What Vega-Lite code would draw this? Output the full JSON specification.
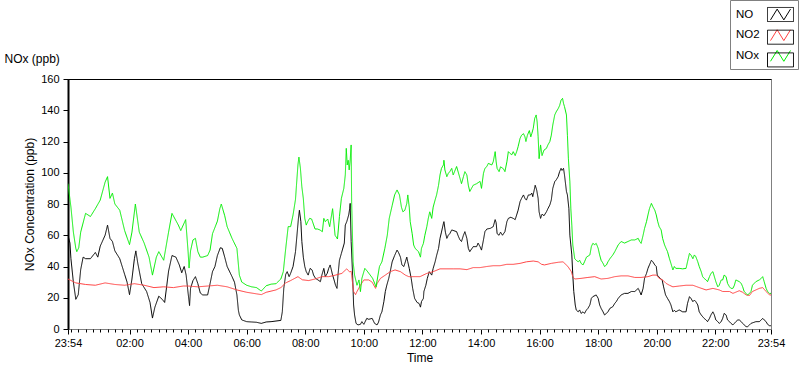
{
"$schema": "https://vega.github.io/schema/vega-lite/v6.json",
"width": 703, "height": 250,
"autosize": {"type": "none"},
"padding": {"left": 68, "top": 79, "right": 29, "bottom": 40},
"background": "white",
"config": {
  "view": {"stroke": "#000", "strokeWidth": 1},
  "axis": {"grid": false, "labelFont": "Liberation Sans", "titleFont": "Liberation Sans", "labelFontSize": 11, "titleFontSize": 12, "titleFontWeight": "normal", "labelColor": "#000", "titleColor": "#000", "tickColor": "#000"},
  "legend": {"labelFont": "Liberation Sans", "labelFontSize": 11.5, "labelColor": "#000"}
},
"datasets": {
"no": [
{"m":-6,"v":60},{"m":-2,"v":55},{"m":0,"v":45},{"m":5,"v":30},{"m":10,"v":19},{"m":15,"v":22},{"m":20,"v":38},{"m":25,"v":46},{"m":30,"v":45},{"m":40,"v":45},{"m":50,"v":49},{"m":55,"v":46},{"m":60,"v":53},{"m":70,"v":60},{"m":75,"v":66.5},{"m":80,"v":58},{"m":85,"v":56},{"m":90,"v":50},{"m":100,"v":45},{"m":110,"v":35},{"m":115,"v":30},{"m":120,"v":22},{"m":125,"v":32},{"m":130,"v":45},{"m":133,"v":50},{"m":137,"v":42},{"m":145,"v":29},{"m":155,"v":24},{"m":162,"v":17},{"m":167,"v":7},{"m":172,"v":14},{"m":180,"v":21},{"m":187,"v":19},{"m":192,"v":17},{"m":200,"v":37},{"m":207,"v":47},{"m":215,"v":46},{"m":222,"v":41},{"m":227,"v":36},{"m":232,"v":40},
{"m":236,"v":34.5},{"m":240,"v":23},{"m":243,"v":15},{"m":245,"v":26},{"m":250,"v":31},{"m":255,"v":33.5},{"m":260,"v":29},{"m":265,"v":23},{"m":270,"v":21.8},{"m":280,"v":21.8},{"m":285,"v":29},{"m":290,"v":36.7},{"m":295,"v":40},{"m":300,"v":47},{"m":306,"v":52},{"m":310,"v":51.6},{"m":315,"v":46},{"m":320,"v":40},{"m":330,"v":33.5},{"m":335,"v":30},{"m":340,"v":21.8},{"m":343,"v":12},{"m":345,"v":9},{"m":350,"v":5.8},{"m":360,"v":4.7},{"m":370,"v":4.5},{"m":380,"v":4.3},{"m":390,"v":3.6},{"m":400,"v":4.5},{"m":410,"v":4.7},{"m":420,"v":5.1},{"m":430,"v":5.5},{"m":433,"v":11},{"m":436,"v":26},{"m":440,"v":35},{"m":443,"v":36.7},{"m":447,"v":33.5},{"m":450,"v":35.6},{"m":455,"v":40},{"m":460,"v":49.5},{"m":463,"v":60},{"m":466,"v":70.8},{"m":468,"v":76},{"m":471,"v":68.7},{"m":473,"v":56},{"m":476,"v":46},
{"m":479,"v":40},{"m":482,"v":36.7},{"m":486,"v":34.5},{"m":490,"v":38.8},{"m":494,"v":37.8},{"m":497,"v":34.5},{"m":501,"v":32.4},{"m":506,"v":31.4},{"m":511,"v":30.3},{"m":514,"v":34.5},{"m":518,"v":38.8},{"m":521,"v":33.5},{"m":525,"v":35.6},{"m":528,"v":38.8},{"m":531,"v":41},{"m":536,"v":34.5},{"m":539,"v":31.4},{"m":542,"v":28},{"m":545,"v":26},{"m":547,"v":34.5},{"m":550,"v":44},{"m":554,"v":48.4},{"m":560,"v":55},{"m":562,"v":66.5},{"m":565,"v":68.7},{"m":569,"v":73},{"m":571,"v":77},{"m":572,"v":80.4},{"m":574,"v":56},{"m":577,"v":34.5},{"m":579,"v":15.4},{"m":581,"v":9},{"m":584,"v":3.6},{"m":588,"v":2.6},{"m":593,"v":3},{"m":596,"v":4.7},{"m":600,"v":3},{"m":606,"v":6.8},{"m":610,"v":6.2},{"m":617,"v":6.8},{"m":622,"v":3.6},{"m":627,"v":2.6},{"m":630,"v":4.3},{"m":634,"v":9},{"m":637,"v":11},{"m":641,"v":17.5},{"m":644,"v":24},{"m":647,"v":28},{"m":651,"v":32.4},{"m":654,"v":36.7},{"m":658,"v":43},{"m":663,"v":47},{"m":668,"v":50.5},{"m":671,"v":49},{"m":675,"v":46},{"m":678,"v":41},{"m":682,"v":40},{"m":685,"v":43},{"m":688,"v":46},{"m":690,"v":43},{"m":693,"v":38.8},{"m":697,"v":32.4},{"m":700,"v":26},{"m":704,"v":19.6},{"m":709,"v":17},{"m":713,"v":16.4},
{"m":716,"v":14},{"m":718,"v":17.5},{"m":722,"v":19.6},{"m":723,"v":24},{"m":727,"v":28},{"m":730,"v":32.4},{"m":734,"v":36.7},{"m":739,"v":34.5},{"m":742,"v":38.8},{"m":746,"v":43},{"m":749,"v":47},{"m":753,"v":51.6},{"m":756,"v":58},{"m":759,"v":62},{"m":763,"v":67.6},{"m":764,"v":68.7},{"m":767,"v":62},{"m":770,"v":58},{"m":773,"v":60},{"m":776,"v":61},{"m":780,"v":63.4},{"m":790,"v":62.3},{"m":794,"v":59},{"m":797,"v":57},{"m":800,"v":56},{"m":804,"v":60},{"m":807,"v":62.3},{"m":811,"v":58},{"m":814,"v":51.6},{"m":817,"v":49.5},{"m":824,"v":52.7},{"m":831,"v":52.7},{"m":834,"v":55},{"m":838,"v":52.7},{"m":841,"v":50.5},{"m":845,"v":57},{"m":848,"v":62.3},{"m":852,"v":64},{"m":859,"v":64.4},{"m":865,"v":65.5},{"m":869,"v":70},{"m":871,"v":68},{"m":873,"v":61},{"m":877,"v":60},{"m":880,"v":62},{"m":884,"v":60},{"m":889,"v":62.3},{"m":893,"v":68.7},{"m":896,"v":70.8},{"m":901,"v":71.5},{"m":906,"v":70.8},{"m":910,"v":70},{"m":913,"v":73},{"m":916,"v":76},{"m":920,"v":81.5},{"m":923,"v":83.6},{"m":927,"v":85.8},{"m":930,"v":83.6},{"m":933,"v":82.5},{"m":937,"v":85.8},{"m":941,"v":85.8},{"m":944,"v":87},{"m":946,"v":84.7},{"m":949,"v":89},{"m":951,"v":92},{"m":954,"v":89},{"m":957,"v":83.6},{"m":959,"v":75},
{"m":962,"v":70.8},{"m":965,"v":73.5},{"m":969,"v":72.5},{"m":974,"v":75},{"m":977,"v":77},{"m":981,"v":79.4},{"m":984,"v":82.6},{"m":987,"v":90},{"m":991,"v":94.3},{"m":994,"v":95.4},{"m":998,"v":97.5},{"m":1001,"v":100.7},{"m":1004,"v":102.8},{"m":1006,"v":101.5},{"m":1009,"v":102.8},{"m":1011,"v":98.6},{"m":1015,"v":88},{"m":1017,"v":85.8},{"m":1020,"v":77},{"m":1022,"v":60},{"m":1024,"v":53.8},{"m":1026,"v":47.4},{"m":1028,"v":34.5},{"m":1030,"v":24},{"m":1033,"v":15.4},{"m":1035,"v":12.2},{"m":1039,"v":11},{"m":1042,"v":12.2},{"m":1045,"v":10},{"m":1049,"v":11},{"m":1052,"v":10},{"m":1056,"v":12.2},{"m":1059,"v":13.2},{"m":1063,"v":15.4},{"m":1066,"v":19.6},{"m":1069,"v":20.7},{"m":1076,"v":21.8},{"m":1080,"v":19.6},{"m":1083,"v":15.4},{"m":1086,"v":13.2},{"m":1090,"v":11},{"m":1093,"v":9},{"m":1097,"v":10},{"m":1100,"v":11},{"m":1104,"v":13.2},{"m":1110,"v":14.3},{"m":1114,"v":16.4},{"m":1117,"v":17.5},{"m":1121,"v":19.6},{"m":1127,"v":21.8},{"m":1134,"v":22.8},{"m":1141,"v":22.8},{"m":1148,"v":24},{"m":1155,"v":24},{"m":1162,"v":26},{"m":1165,"v":24},{"m":1168,"v":21.8},{"m":1172,"v":26},{"m":1175,"v":32.4},{"m":1179,"v":35.6},{"m":1182,"v":38.8},{"m":1185,"v":41},{"m":1189,"v":44},{"m":1192,"v":43},{"m":1196,"v":41},
{"m":1199,"v":40},{"m":1201,"v":34.5},{"m":1204,"v":33.5},{"m":1207,"v":32.4},{"m":1211,"v":31.4},{"m":1214,"v":27},{"m":1218,"v":21.8},{"m":1222,"v":19.6},{"m":1226,"v":17.5},{"m":1229,"v":15.4},{"m":1233,"v":11},{"m":1236,"v":12},{"m":1239,"v":11},{"m":1246,"v":12.2},{"m":1253,"v":11},{"m":1260,"v":11},{"m":1263,"v":16.4},{"m":1267,"v":20.7},{"m":1270,"v":19.6},{"m":1274,"v":17.5},{"m":1277,"v":18.5},{"m":1280,"v":17.5},{"m":1284,"v":15.4},{"m":1287,"v":11},{"m":1291,"v":9},{"m":1294,"v":7.9},{"m":1297,"v":6.8},{"m":1301,"v":5.8},{"m":1304,"v":4.7},{"m":1308,"v":6.8},{"m":1311,"v":9},{"m":1315,"v":11},{"m":1318,"v":9},{"m":1321,"v":5.8},{"m":1325,"v":4.7},{"m":1328,"v":3.6},{"m":1332,"v":4.7},{"m":1335,"v":6.8},{"m":1338,"v":10},{"m":1342,"v":9},{"m":1345,"v":5.8},{"m":1349,"v":4.7},{"m":1352,"v":3.6},{"m":1356,"v":2.6},{"m":1359,"v":3.6},{"m":1362,"v":4.7},{"m":1366,"v":5.8},{"m":1369,"v":5.8},{"m":1373,"v":4.7},{"m":1376,"v":3.6},{"m":1379,"v":2.6},{"m":1383,"v":1.5},{"m":1386,"v":1.5},{"m":1390,"v":2.6},{"m":1393,"v":3.6},{"m":1403,"v":4.7},{"m":1410,"v":4.7},{"m":1414,"v":5.8},{"m":1417,"v":6.8},{"m":1420,"v":5.8},{"m":1424,"v":4.7},{"m":1427,"v":3},{"m":1431,"v":2.1},{"m":1434,"v":2.1}
],
"no2": [
{"m":-6,"v":32},{"m":10,"v":29.5},{"m":30,"v":28.5},{"m":50,"v":28},{"m":70,"v":29.5},{"m":90,"v":28.5},{"m":110,"v":28},{"m":130,"v":29},{"m":150,"v":28},{"m":170,"v":26.5},{"m":190,"v":27},{"m":210,"v":26.5},{"m":230,"v":27.5},{"m":240,"v":27.5},{"m":260,"v":27},{"m":280,"v":27.5},{"m":300,"v":28},{"m":320,"v":27},{"m":340,"v":25},{"m":360,"v":23.5},{"m":380,"v":22.5},{"m":390,"v":22},{"m":400,"v":23.5},{"m":420,"v":25},{"m":430,"v":26.5},{"m":440,"v":29.5},{"m":450,"v":31},{"m":465,"v":33.5},{"m":474,"v":31.5},{"m":487,"v":31},{"m":500,"v":32},{"m":514,"v":33.5},{"m":528,"v":33.5},{"m":542,"v":34.5},{"m":555,"v":35.6},{"m":565,"v":38.5},{"m":571,"v":36.5},{"m":574,"v":37},{"m":579,"v":24},{"m":583,"v":22},{"m":586,"v":24},{"m":593,"v":28},{"m":600,"v":31.4},{"m":610,"v":31.4},{"m":617,"v":30},{"m":624,"v":26},{"m":627,"v":29},{"m":634,"v":32.4},{"m":644,"v":34.5},{"m":654,"v":36.7},{"m":664,"v":37.8},{"m":675,"v":36.7},{"m":685,"v":34.5},{"m":692,"v":33.5},{"m":705,"v":33.5},{"m":715,"v":33.5},{"m":729,"v":35.6},{"m":742,"v":36.7},{"m":756,"v":38.5},{"m":770,"v":38.5},{"m":783,"v":38.5},{"m":797,"v":38.5},{"m":811,"v":38},{"m":824,"v":39.3},{"m":838,"v":39.3},{"m":852,"v":40},{"m":865,"v":40.5},{"m":879,"v":40.5},{"m":893,"v":41.4},{"m":906,"v":41.4},{"m":920,"v":42},{"m":933,"v":43},{"m":947,"v":43.5},{"m":957,"v":43},{"m":964,"v":41.4},{"m":970,"v":41},{"m":984,"v":42},{"m":998,"v":42.7},{"m":1008,"v":43},{"m":1018,"v":40},{"m":1025,"v":36.7},{"m":1028,"v":33.5},{"m":1032,"v":32},{"m":1045,"v":32.4},{"m":1059,"v":33},{"m":1073,"v":33.5},{"m":1086,"v":32},{"m":1100,"v":32.4},{"m":1114,"v":33.5},{"m":1127,"v":34},{"m":1141,"v":34},{"m":1155,"v":33},{"m":1168,"v":33},{"m":1182,"v":33.5},{"m":1192,"v":34.5},{"m":1199,"v":34.5},{"m":1205,"v":32.4},{"m":1212,"v":31.4},{"m":1219,"v":29.2},{"m":1226,"v":28},{"m":1233,"v":27},{"m":1246,"v":27.5},{"m":1260,"v":28},{"m":1274,"v":28},{"m":1287,"v":26.5},{"m":1301,"v":25},{"m":1315,"v":26},{"m":1328,"v":25},{"m":1335,"v":24},{"m":1349,"v":24},{"m":1356,"v":22.8},{"m":1369,"v":24.5},{"m":1376,"v":23.5},{"m":1383,"v":21.8},{"m":1390,"v":21.5},{"m":1396,"v":24},{"m":1403,"v":25},{"m":1410,"v":26},{"m":1417,"v":26.5},{"m":1424,"v":24},{"m":1431,"v":21.8},{"m":1434,"v":21.8}
],
"nox": [
{"m":-6,"v":93},{"m":0,"v":78},{"m":5,"v":62},{"m":10,"v":51.6},{"m":12,"v":49.5},{"m":16,"v":52},{"m":20,"v":62},{"m":30,"v":74},{"m":40,"v":72},{"m":50,"v":77},{"m":60,"v":82.5},{"m":70,"v":94},{"m":75,"v":97.5},{"m":80,"v":83.6},{"m":85,"v":87},{"m":90,"v":80},{"m":100,"v":76},{"m":110,"v":63},{"m":120,"v":54},{"m":125,"v":62},{"m":132,"v":80},{"m":140,"v":62},{"m":150,"v":55},{"m":160,"v":46},{"m":167,"v":34.5},{"m":175,"v":46},{"m":180,"v":49.5},{"m":190,"v":44},{"m":200,"v":62},{"m":207,"v":74},{"m":220,"v":66.5},{"m":225,"v":63},{"m":235,"v":70},
{"m":240,"v":49.5},{"m":242,"v":39},{"m":245,"v":50},{"m":250,"v":57},{"m":255,"v":58},{"m":260,"v":49.5},{"m":265,"v":46},{"m":270,"v":46},{"m":280,"v":47},{"m":285,"v":50.5},{"m":290,"v":61},{"m":300,"v":69},{"m":305,"v":77},{"m":308,"v":80},{"m":315,"v":72.5},{"m":320,"v":65.5},{"m":330,"v":58},{"m":340,"v":51.6},{"m":345,"v":34.5},{"m":350,"v":30},{"m":360,"v":28},{"m":370,"v":27},{"m":380,"v":26.5},{"m":390,"v":24.3},{"m":400,"v":27.7},{"m":410,"v":28.7},{"m":420,"v":29},{"m":430,"v":32},{"m":435,"v":36.7},{"m":440,"v":51.6},{"m":445,"v":65.5},{"m":450,"v":65.5},{"m":455,"v":73},{"m":460,"v":83},{"m":462,"v":92},{"m":465,"v":105},{"m":467,"v":110},{"m":470,"v":103},{"m":473,"v":91},{"m":476,"v":83.6},
{"m":479,"v":70.8},{"m":482,"v":66.5},{"m":485,"v":68.7},{"m":489,"v":70.8},{"m":493,"v":70.4},{"m":500,"v":64},{"m":505,"v":64},{"m":510,"v":63.4},{"m":515,"v":62.3},{"m":518,"v":70.8},{"m":521,"v":68.7},{"m":526,"v":70.4},{"m":530,"v":65.5},{"m":536,"v":77},{"m":541,"v":60},{"m":546,"v":57.6},{"m":550,"v":72},{"m":554,"v":83.6},{"m":559,"v":90},{"m":562,"v":98.6},{"m":564,"v":115.6},{"m":566,"v":105},{"m":568,"v":108},{"m":570,"v":101.8},{"m":572,"v":108},{"m":574,"v":117.8},{"m":575,"v":81.5},{"m":578,"v":43},{"m":581,"v":34.5},{"m":586,"v":28},{"m":590,"v":31.4},{"m":593,"v":23.9},{"m":596,"v":32.4},{"m":602,"v":38.8},{"m":607,"v":37},{"m":613,"v":34.5},{"m":618,"v":32.4},{"m":625,"v":27},{"m":629,"v":34.5},{"m":632,"v":40},{"m":637,"v":43},{"m":643,"v":51.6},{"m":648,"v":60},{"m":652,"v":70.8},{"m":658,"v":79},{"m":663,"v":85.8},{"m":668,"v":89},{"m":673,"v":85.8},{"m":677,"v":78},{"m":680,"v":75},{"m":684,"v":76},{"m":688,"v":80.4},{"m":690,"v":85.8},{"m":693,"v":78},{"m":695,"v":68.7},{"m":699,"v":61},{"m":702,"v":53.8},{"m":705,"v":51.6},{"m":712,"v":49.5},{"m":716,"v":46},
{"m":718,"v":51.6},{"m":722,"v":54.8},{"m":725,"v":60},{"m":729,"v":65.5},{"m":732,"v":70.8},{"m":735,"v":75},{"m":739,"v":70.8},{"m":742,"v":78},{"m":746,"v":82.6},{"m":749,"v":85.8},{"m":753,"v":92},{"m":756,"v":98.6},{"m":759,"v":102.8},{"m":763,"v":105},{"m":764,"v":108},{"m":766,"v":101.8},{"m":770,"v":97.5},{"m":773,"v":99.6},{"m":776,"v":100.7},{"m":780,"v":102.8},{"m":783,"v":98.6},{"m":790,"v":104},{"m":797,"v":96.4},{"m":800,"v":93},{"m":804,"v":97.5},{"m":807,"v":100.7},{"m":811,"v":98.6},{"m":814,"v":92},{"m":817,"v":88},{"m":824,"v":92},{"m":831,"v":93},{"m":838,"v":94.5},{"m":841,"v":90},{"m":845,"v":99.6},{"m":848,"v":102.8},{"m":852,"v":104},{"m":855,"v":106},{"m":862,"v":105},{"m":865,"v":107},{"m":869,"v":113.5},{"m":871,"v":107},{"m":873,"v":102.8},{"m":877,"v":100.7},{"m":880,"v":103.8},{"m":886,"v":102.5},{"m":889,"v":100.7},{"m":893,"v":107},{"m":896,"v":113.5},{"m":899,"v":112.5},{"m":903,"v":111.5},{"m":906,"v":113.5},{"m":910,"v":111},{"m":913,"v":113.5},{"m":916,"v":116.7},{"m":920,"v":122},{"m":923,"v":124},{"m":927,"v":125},{"m":930,"v":123},{"m":932,"v":120},{"m":935,"v":124},{"m":939,"v":127},{"m":942,"v":123},{"m":944,"v":125},{"m":947,"v":128.4},{"m":950,"v":134.8},{"m":953,"v":137},{"m":955,"v":132.5},{"m":957,"v":123},
{"m":959,"v":109},{"m":962,"v":117.8},{"m":965,"v":111},{"m":969,"v":114.5},{"m":974,"v":115.6},{"m":977,"v":117.8},{"m":981,"v":120},{"m":984,"v":124},{"m":987,"v":130.5},{"m":991,"v":137},{"m":994,"v":139},{"m":998,"v":141},{"m":1001,"v":143},{"m":1004,"v":146.5},{"m":1007,"v":147.6},{"m":1009,"v":144.4},{"m":1011,"v":142.3},{"m":1015,"v":137},{"m":1017,"v":124},{"m":1019,"v":109},{"m":1022,"v":94.3},{"m":1024,"v":77},{"m":1026,"v":66.5},{"m":1028,"v":53.8},{"m":1032,"v":45},{"m":1035,"v":44},{"m":1039,"v":43},{"m":1042,"v":44},{"m":1045,"v":42},{"m":1049,"v":41},{"m":1052,"v":43},{"m":1056,"v":46},{"m":1063,"v":47.4},{"m":1066,"v":52.7},{"m":1069,"v":54.8},{"m":1073,"v":54},{"m":1076,"v":54.8},{"m":1080,"v":51.6},{"m":1083,"v":47.4},{"m":1086,"v":44},{"m":1090,"v":42},{"m":1093,"v":40},{"m":1097,"v":41},{"m":1100,"v":43},{"m":1104,"v":45},{"m":1110,"v":47.4},{"m":1114,"v":49.5},{"m":1121,"v":53.8},{"m":1127,"v":56},{"m":1134,"v":55},{"m":1141,"v":56},{"m":1148,"v":57},{"m":1155,"v":57},{"m":1162,"v":58},{"m":1165,"v":56},{"m":1168,"v":54.8},{"m":1172,"v":60},{"m":1175,"v":64.4},{"m":1179,"v":68.7},{"m":1182,"v":73},{"m":1185,"v":77},{"m":1189,"v":80.4},{"m":1192,"v":78.3},{"m":1196,"v":76},
{"m":1199,"v":73},{"m":1202,"v":68.7},{"m":1205,"v":65.5},{"m":1209,"v":63.4},{"m":1212,"v":58},{"m":1216,"v":53.8},{"m":1219,"v":51.6},{"m":1222,"v":49.5},{"m":1226,"v":45},{"m":1229,"v":42},{"m":1233,"v":37.8},{"m":1236,"v":40},{"m":1239,"v":38.8},{"m":1246,"v":38.8},{"m":1253,"v":38.5},{"m":1260,"v":38.8},{"m":1263,"v":43},{"m":1267,"v":48.4},{"m":1270,"v":47.4},{"m":1274,"v":45},{"m":1277,"v":47.4},{"m":1280,"v":46.3},{"m":1284,"v":43},{"m":1287,"v":40},{"m":1291,"v":36.7},{"m":1294,"v":33.5},{"m":1297,"v":32.4},{"m":1301,"v":31.4},{"m":1304,"v":30.3},{"m":1308,"v":33.5},{"m":1311,"v":35.6},{"m":1315,"v":36.7},{"m":1318,"v":33.5},{"m":1321,"v":30.3},{"m":1325,"v":27},{"m":1328,"v":28},{"m":1332,"v":31.4},{"m":1335,"v":31.4},{"m":1338,"v":34.5},{"m":1342,"v":33.5},{"m":1345,"v":29.2},{"m":1349,"v":27},{"m":1352,"v":26},{"m":1356,"v":26},{"m":1359,"v":28},{"m":1362,"v":31.4},{"m":1369,"v":30.3},{"m":1373,"v":29.2},{"m":1376,"v":27},{"m":1379,"v":24},{"m":1383,"v":22.8},{"m":1386,"v":21.8},{"m":1390,"v":22.8},{"m":1393,"v":24},{"m":1396,"v":28},{"m":1403,"v":30.3},{"m":1410,"v":31.4},{"m":1414,"v":32.4},{"m":1417,"v":33.5},{"m":1420,"v":30.3},{"m":1424,"v":26},{"m":1427,"v":24},{"m":1431,"v":22.8},{"m":1434,"v":22.8}
]
},
"layer": [
{
  "data": {"name": "no"},
  "mark": {"type": "line", "strokeWidth": 1, "clip": true},
  "encoding": {
    "x": {"field": "m", "type": "quantitative", "scale": {"domain": [-6, 1434], "nice": false, "zero": false},
      "axis": {"orient": "bottom", "title": "Time", "values": [-6,120,240,360,480,600,720,840,960,1080,1200,1320,1434],
        "labelExpr": "datum.value < 0 || datum.value > 1400 ? '23:54' : (datum.value < 600 ? '0' : '') + floor(datum.value/60) + ':00'",
        "labelOverlap": false, "labelFlush": false, "domainColor": "#808080", "domainWidth": 1, "tickSize": 5, "tickWidth": 1, "labelPadding": 3, "titlePadding": 4}},
    "y": {"field": "v", "type": "quantitative", "scale": {"domain": [0, 160], "nice": false},
      "axis": {"orient": "left", "title": "NOx Concentration (ppb)", "values": [0,20,40,60,80,100,120,140,160], "domainColor": "#000", "domainWidth": 2, "tickSize": 5, "tickWidth": 1, "labelPadding": 4, "titlePadding": 4}},
    "color": {"datum": "NO", "type": "nominal",
      "scale": {"domain": ["NO", "NO2", "NOx"], "range": ["#000000", "#ff4040", "#00ee00"]},
      "legend": {"orient": "none", "legendX": 662, "legendY": -79, "title": null, "padding": 5, "rowPadding": 3.7,
        "strokeColor": "#808080", "fillColor": "#ffffff",
        "symbolType": "M2.89,0.6L3.63,-0.6L4.37,0.6L5.11,-0.6", "symbolSize": 324, "symbolStrokeWidth": 1,
        "labelOffset": -18, "labelAlign": "left"}},
    "strokeDash": {"datum": "b1", "type": "nominal",
      "scale": {"domain": ["b1", "b2", "b3"], "range": [[1, 0], [1, 0], [1, 0]]},
      "legend": {"orient": "none", "legendX": 662, "legendY": -79, "title": null, "padding": 5, "rowPadding": 3.7,
        "symbolType": "M2.556,-0.78H5.444V0.78H2.556Z", "symbolSize": 324, "symbolStrokeWidth": 1,
        "labelExpr": "''", "labelOffset": -18, "labelAlign": "left",
        "encode": {"symbols": {"update": {"stroke": {"value": "#404040"}, "fill": {"value": "transparent"}, "strokeDash": {"value": [1, 0]}}}}}}
  }
},
{
  "data": {"name": "no2"},
  "mark": {"type": "line", "strokeWidth": 1, "clip": true},
  "encoding": {
    "x": {"field": "m", "type": "quantitative",
      "axis": {"orient": "bottom", "title": null, "labels": false, "domain": false, "tickSize": 3, "tickWidth": 1,
        "values": [0,15,30,45,60,75,90,105,135,150,165,180,195,210,225,255,270,285,300,315,330,345,375,390,405,420,435,450,465,495,510,525,540,555,570,585,615,630,645,660,675,690,705,735,750,765,780,795,810,825,855,870,885,900,915,930,945,975,990,1005,1020,1035,1050,1065,1095,1110,1125,1140,1155,1170,1185,1215,1230,1245,1260,1275,1290,1305,1335,1350,1365,1380,1395,1410,1425]}},
    "y": {"field": "v", "type": "quantitative",
      "axis": {"orient": "right", "title": null, "labels": false, "ticks": false, "domainColor": "#808080", "domainWidth": 1}},
    "color": {"datum": "NO2", "type": "nominal"},
    "strokeDash": {"datum": "b2", "type": "nominal"}
  }
},
{
  "data": {"name": "nox"},
  "mark": {"type": "line", "strokeWidth": 1, "clip": true},
  "encoding": {
    "x": {"field": "m", "type": "quantitative",
      "axis": {"orient": "top", "title": "NOx (ppb)", "labels": false, "ticks": false, "domainColor": "#000", "domainWidth": 1,
        "titleX": -64, "titleY": -17, "titleAlign": "left", "titleAnchor": "start", "titleBaseline": "alphabetic", "titleFontSize": 12}},
    "y": {"field": "v", "type": "quantitative", "axis": null},
    "color": {"datum": "NOx", "type": "nominal"},
    "strokeDash": {"datum": "b3", "type": "nominal"}
  }
}
],
"resolve": {"axis": {"x": "independent", "y": "independent"}}
}
